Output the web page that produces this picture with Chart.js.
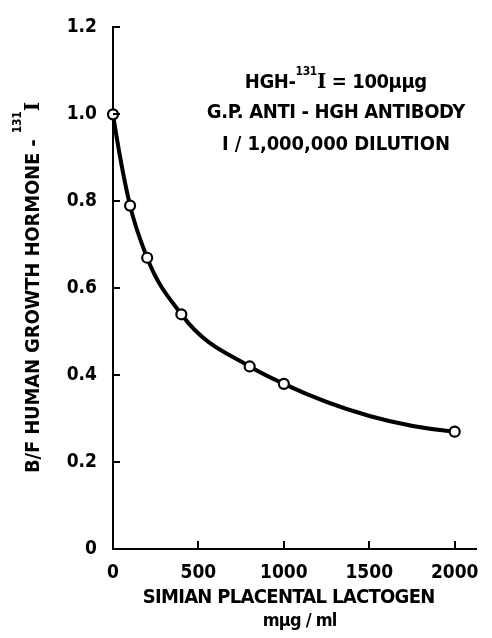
<!DOCTYPE html>
<html><head><meta charset="utf-8">
<script src="https://cdn.jsdelivr.net/npm/chart.js@4/dist/chart.umd.min.js"></script>
<style>html,body{margin:0;padding:0;background:#fff}#wrap{width:492px;height:638px}</style>
</head><body><div id="wrap"><canvas id="c" width="492" height="638"></canvas></div>
<script>
// ---- data ----
const concentrations = [0, 100, 200, 400, 800, 1000, 2000];   // mµg/ml
const bfRatio        = [1.0, 0.79, 0.67, 0.54, 0.42, 0.38, 0.27];
const xTickValues = [0, 500, 1000, 1500, 2000];
const xTickLabels = ['0', '500', '1000', '1500', '2000'];
const yTickValues = [0, 0.2, 0.4, 0.6, 0.8, 1.0, 1.2];
const yTickLabels = ['0', '0.2', '0.4', '0.6', '0.8', '1.0', '1.2'];
const xTitle = 'SIMIAN PLACENTAL LACTOGEN';
const xUnit = 'mµg / ml';
const yTitleMain = 'B/F HUMAN GROWTH HORMONE - ';
const isoMass = '131';
const isoSym = 'I';
const noteLine1 = ['HGH-', ' = 100µµg'];
const noteLine2 = 'G.P. ANTI - HGH ANTIBODY';
const noteLine3 = 'I / 1,000,000 DILUTION';

const SANS = '"DejaVu Sans Condensed", "DejaVu Sans", sans-serif';
const SERIF = '"DejaVu Serif", serif';
const fMain = 'bold 20px ' + SANS;
const fUnit = 'bold 18px ' + SANS;
const fSup = 'bold 12px ' + SANS;
const fSerif = 'bold 20px ' + SERIF;

function drawRuns(ctx, runs, cx, baseline, target) {
  ctx.letterSpacing = '0px';
  let nat = 0, n = 0;
  runs.forEach(r => { ctx.font = r.font; nat += ctx.measureText(r.t).width; n += r.t.length; });
  let ls = (target - nat) / n;
  if (!('letterSpacing' in ctx)) ls = 0;
  ctx.letterSpacing = ls.toFixed(2) + 'px';
  let tot = 0;
  runs.forEach(r => { ctx.font = r.font; r.w = ctx.measureText(r.t).width; tot += r.w; });
  tot -= ls;
  let x = cx - tot / 2;
  ctx.textAlign = 'left';
  ctx.textBaseline = 'alphabetic';
  runs.forEach(r => { ctx.font = r.font; ctx.fillText(r.t, x, baseline + (r.dy || 0)); x += r.w; });
  ctx.letterSpacing = '0px';
}

// smooth (Bessel-tangent) bezier control points for the library's line element
const smoothCurve = {
  id: 'smoothCurve',
  beforeDatasetsDraw(chart) {
    const meta = chart.getDatasetMeta(0);
    if (meta.dataset && meta.dataset.updateControlPoints) meta.dataset.updateControlPoints(chart.chartArea, 'x');
    const P = meta.data, n = P.length;
    if (n < 3) return;
    const h = [], s = [], m = [];
    for (let i = 0; i < n - 1; i++) { h[i] = P[i + 1].x - P[i].x; s[i] = (P[i + 1].y - P[i].y) / h[i]; }
    for (let i = 1; i < n - 1; i++) m[i] = (s[i - 1] * h[i] + s[i] * h[i - 1]) / (h[i - 1] + h[i]);
    m[0] = s[0] + (s[0] - s[1]) * h[0] / (h[0] + h[1]);
    m[n - 1] = s[n - 2] + (s[n - 2] - s[n - 3]) * h[n - 2] / (h[n - 2] + h[n - 3]);
    for (let i = 0; i < n; i++) {
      if (i > 0) { P[i].cp1x = P[i].x - h[i - 1] / 3; P[i].cp1y = P[i].y - m[i] * h[i - 1] / 3; }
      if (i < n - 1) { P[i].cp2x = P[i].x + h[i] / 3; P[i].cp2y = P[i].y + m[i] * h[i] / 3; }
    }
    if (meta.dataset) meta.dataset._path = undefined;
  }
};

const decorations = {
  id: 'decorations',
  afterDraw(chart) {
    const {ctx, chartArea: a, scales: {x, y}} = chart;
    ctx.save();
    // inward tick marks
    ctx.strokeStyle = '#000'; ctx.lineWidth = 2;
    x.ticks.forEach(t => {
      if (t.value === 0) return;
      const px = Math.round(x.getPixelForValue(t.value));
      ctx.beginPath(); ctx.moveTo(px, a.bottom); ctx.lineTo(px, a.bottom - 8); ctx.stroke();
    });
    y.ticks.forEach(t => {
      if (t.value === 0) return;
      const py = Math.round(y.getPixelForValue(t.value));
      ctx.beginPath(); ctx.moveTo(a.left, py); ctx.lineTo(a.left + 7, py); ctx.stroke();
    });
    ctx.fillStyle = '#000';
    // x title
    drawRuns(ctx, [{t: xTitle, font: fMain}], 289, 603, 292);
    drawRuns(ctx, [{t: xUnit, font: fUnit}], 300, 626, 74);
    // annotation
    drawRuns(ctx, [{t: noteLine1[0], font: fMain}, {t: isoMass, font: fSup, dy: -13},
                   {t: isoSym, font: fSerif}, {t: noteLine1[1], font: fMain}], 336, 88, 182);
    drawRuns(ctx, [{t: noteLine2, font: fMain}], 336, 118, 258);
    drawRuns(ctx, [{t: noteLine3, font: fMain}], 336, 150, 228);
    // y title (rotated)
    ctx.save();
    ctx.translate(39, 287.5);
    ctx.rotate(-Math.PI / 2);
    drawRuns(ctx, [{t: yTitleMain, font: fMain}, {t: isoMass, font: fSup, dy: -18},
                   {t: isoSym, font: fSerif}], 0, 0, 371);
    ctx.restore();
    ctx.restore();
  }
};

new Chart(document.getElementById('c'), {
  type: 'line',
  data: {
    datasets: [{
      data: concentrations.map((c, i) => ({x: c, y: bfRatio[i]})),
      borderColor: '#000',
      borderWidth: 4,
      tension: 0.4,
      capBezierPoints: false,
      pointRadius: 5,
      pointBorderWidth: 2.2,
      pointBackgroundColor: '#fff',
      pointBorderColor: '#000',
      clip: false
    }]
  },
  options: {
    responsive: false,
    animation: false,
    devicePixelRatio: 1,
    layout: {padding: {top: 21, right: 9, left: 0, bottom: 0}},
    plugins: {legend: {display: false}, tooltip: {enabled: false}},
    scales: {
      x: {
        type: 'linear', min: 0, max: 2125,
        afterBuildTicks: s => { s.ticks = xTickValues.map(v => ({value: v})); },
        afterFit: s => { s.height = 89; },
        grid: {display: false, drawTicks: false},
        border: {display: true, color: '#000', width: 2},
        ticks: {
          color: '#000', padding: 13, maxRotation: 0, autoSkip: false,
          font: {family: SANS, size: 19, weight: 'bold'},
          callback: (v) => xTickLabels[xTickValues.indexOf(v)]
        }
      },
      y: {
        type: 'linear', min: 0, max: 1.2,
        afterBuildTicks: s => { s.ticks = yTickValues.map(v => ({value: v})); },
        afterFit: s => { s.width = 113; },
        grid: {display: false, drawTicks: false},
        border: {display: true, color: '#000', width: 2},
        ticks: {
          color: '#000', padding: 16, autoSkip: false,
          font: {family: SANS, size: 19, weight: 'bold'},
          callback: (v) => yTickLabels[yTickValues.findIndex(t => Math.abs(t - v) < 1e-9)]
        }
      }
    }
  },
  plugins: [smoothCurve, decorations]
});
</script>
</body></html>
